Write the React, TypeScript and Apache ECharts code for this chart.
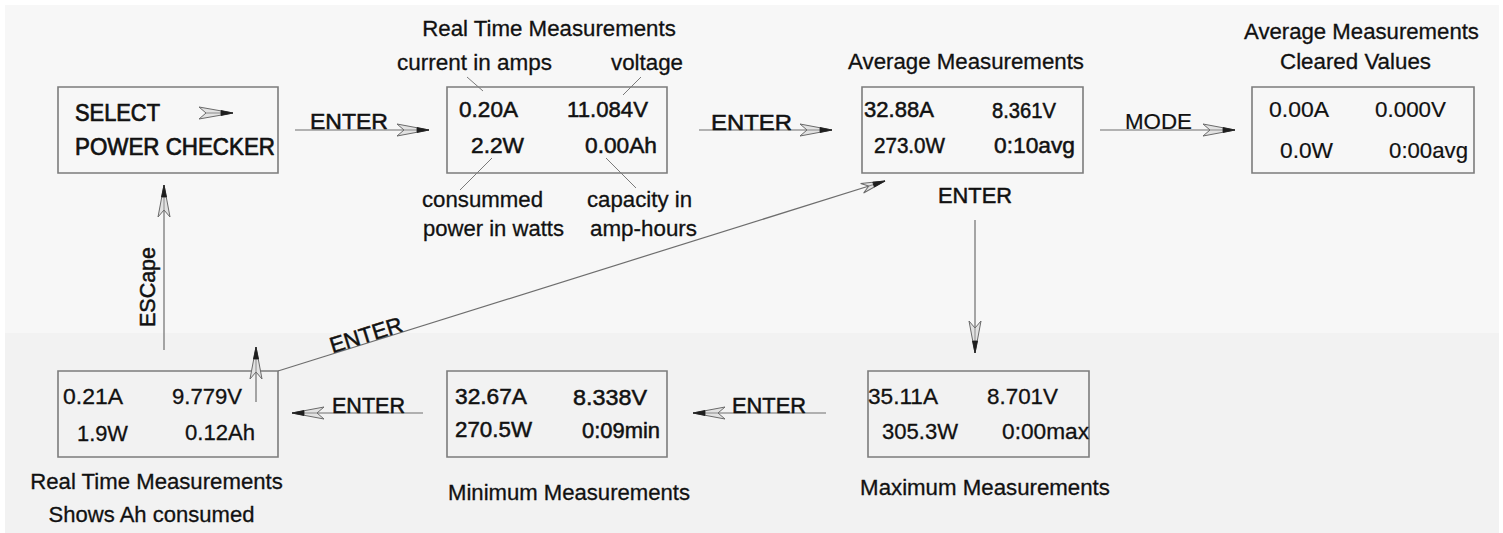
import React, { useEffect, useRef } from "react";
import * as echarts from "echarts";

// ---------- content (texts / readings) ----------
const SCREEN_TITLES = ["SELECT", "POWER CHECKER"];
const RT_READINGS = ["0.20A", "11.084V", "2.2W", "0.00Ah"];
const AVG_READINGS = ["32.88A", "8.361V", "273.0W", "0:10avg"];
const CLEARED_READINGS = ["0.00A", "0.000V", "0.0W", "0:00avg"];
const RT_AH_READINGS = ["0.21A", "9.779V", "1.9W", "0.12Ah"];
const MIN_READINGS = ["32.67A", "8.338V", "270.5W", "0:09min"];
const MAX_READINGS = ["35.11A", "8.701V", "305.3W", "0:00max"];
const CAPTIONS = [
  "Real Time Measurements",
  "current in amps",
  "voltage",
  "consummed",
  "power in watts",
  "capacity in",
  "amp-hours",
  "Average Measurements",
  "Average Measurements",
  "Cleared Values",
  "Real Time Measurements",
  "Shows Ah consumed",
  "Minimum Measurements",
  "Maximum Measurements",
];
const KEY_LABELS = ["ENTER", "ENTER", "MODE", "ENTER", "ENTER", "ENTER", "ENTER", "ESCape"];

// ---------- layout (positions only) ----------
// boxes: [x, y, w, h]
const BOX_LAYOUT = [
  [58, 87, 220, 86],
  [447, 87, 220, 86],
  [862, 87, 221, 86],
  [1252, 87, 222, 86],
  [58, 371, 220, 86],
  [447, 371, 220, 86],
  [868, 371, 221, 86],
];
// reading text spans inside boxes: [x0, x1, cy] (4 per box, in reading order)
const RT_POS = [[459, 518, 110], [567, 648, 110], [471, 524, 146], [585, 657, 146]];
const AVG_POS = [[864, 934, 110], [992, 1056, 110], [874, 945, 146], [994, 1075, 146]];
const CLR_POS = [[1269, 1329, 110], [1375, 1446, 110], [1280, 1333, 151], [1389, 1468, 151]];
const RTAH_POS = [[63, 123, 397], [172, 242, 397], [77, 128, 433], [185, 255, 433]];
const MIN_POS = [[455, 527, 397], [573, 647, 397], [455, 532, 430], [582, 660, 430]];
const MAX_POS = [[868, 938, 397], [987, 1058, 397], [882, 958, 432], [1002, 1089, 432]];
const TITLE_POS = [[75, 160, 113], [75, 275, 147]];
const CAPTION_POS = [
  [422, 676, 29],
  [397, 552, 63],
  [611, 683, 63],
  [422, 543, 200],
  [423, 564, 229],
  [587, 692, 200],
  [590, 697, 229],
  [848, 1084, 62],
  [1244, 1479, 32],
  [1280, 1431, 62],
  [30, 283, 482],
  [48, 255, 515],
  [448, 690, 493],
  [860, 1110, 488],
];
// key label positions: [cx, cy, width, rotation]
const KEY_POS = [
  [349, 122, 78, 0],
  [751.5, 122, 81, 0],
  [1158.5, 122, 67, 0],
  [368.5, 405, 73, 0],
  [769, 405, 74, 0],
  [366, 335, 75, 0.304],
  [975, 195, 74, 0],
  [147, 287, 80, Math.PI / 2],
];
// arrows: [x1, y1, x2, y2] head at (x2, y2)
const ARROWS = [
  [295, 130, 429, 130],
  [699, 130, 832, 130],
  [1100, 130, 1235, 130],
  [975, 220, 975, 353],
  [423, 413, 292, 413],
  [826, 413, 693, 413],
  [164, 350, 164, 185],
  [256, 402, 256, 347],
  [278, 371, 885, 181],
];
// leader lines: [x1, y1, x2, y2]
const LEADERS = [
  [467, 77, 483, 91],
  [641, 77, 623, 95],
  [460, 190, 492, 158],
  [606, 158, 636, 188],
];

const FONT = '"Liberation Sans", Arial, Helvetica, sans-serif';
const TEXT_COLOR = "#111111";

let measureCtx: CanvasRenderingContext2D | null = null;
function measure(t: string, size: number): number {
  if (!measureCtx) {
    const c = document.createElement("canvas");
    measureCtx = c.getContext("2d");
  }
  if (!measureCtx) return t.length * size * 0.55;
  measureCtx.font = `${size}px ${FONT}`;
  return measureCtx.measureText(t).width;
}

function fitText(text: string, cx: number, cy: number, width: number, size: number, rotation = 0, heavy = 0.35) {
  const natural = measure(text, size);
  let sx = natural > 0 ? width / natural : 1;
  sx = Math.max(0.75, Math.min(1.3, sx));
  return {
    type: "text",
    x: cx,
    y: cy,
    rotation,
    scaleX: sx,
    silent: true,
    style: {
      text,
      x: 0,
      y: 0,
      fill: TEXT_COLOR,
      fontSize: size,
      fontFamily: FONT,
      align: "center",
      verticalAlign: "middle",
      stroke: TEXT_COLOR,
      lineWidth: heavy,
    },
  };
}

function spanText(text: string, span: number[], size: number, heavy = 0.35) {
  const [x0, x1, cy] = span;
  return fitText(text, (x0 + x1) / 2, cy, x1 - x0, size, 0, heavy);
}

function arrowHead(tx: number, ty: number, angle: number, len = 32, half = 6) {
  return {
    type: "group",
    x: tx,
    y: ty,
    rotation: angle,
    silent: true,
    children: [
      {
        type: "polygon",
        shape: { points: [[0, 0], [-len, -half], [-len + 7, 0], [-len, half]] },
        style: { fill: "#e2e2e2", stroke: "#6a6a6a", lineWidth: 1 },
      },
      {
        type: "line",
        shape: { x1: -len + 7, y1: 0, x2: 0, y2: 0 },
        style: { stroke: "#8a8a8a", lineWidth: 1 },
      },
      {
        type: "polygon",
        shape: { points: [[0, 0], [-12, -2.5], [-12, 2.5]] },
        style: { fill: "#1e1e1e", stroke: "#1e1e1e", lineWidth: 0.8 },
      },
    ],
  };
}

function buildElements() {
  const els: any[] = [];
  // background
  els.push({
    type: "rect",
    silent: true,
    shape: { x: 5, y: 5, width: 1494, height: 328 },
    style: { fill: "#f7f7f7" },
  });
  els.push({
    type: "rect",
    silent: true,
    shape: { x: 5, y: 333, width: 1494, height: 200 },
    style: { fill: "#f2f2f2" },
  });
  // boxes
  BOX_LAYOUT.forEach(([x, y, w, h]) => {
    els.push({
      type: "rect",
      silent: true,
      shape: { x, y, width: w, height: h },
      style: { fill: "none", stroke: "#7c7c7c", lineWidth: 1.6 },
    });
  });
  // leader lines
  LEADERS.forEach(([x1, y1, x2, y2]) => {
    els.push({
      type: "line",
      silent: true,
      shape: { x1, y1, x2, y2 },
      style: { stroke: "#7a7a7a", lineWidth: 1 },
    });
  });
  // arrows
  ARROWS.forEach(([x1, y1, x2, y2]) => {
    els.push({
      type: "line",
      silent: true,
      shape: { x1, y1, x2, y2 },
      style: { stroke: "#6e6e6e", lineWidth: 1.2 },
    });
    const ang = Math.atan2(-(y2 - y1), x2 - x1);
    const diag = Math.abs(y2 - y1) > 1 && Math.abs(x2 - x1) > 1;
    els.push(arrowHead(x2, y2, ang, diag ? 24 : 32, diag ? 5 : 6));
  });
  // small arrow symbol inside the SELECT box
  els.push(arrowHead(233, 113, 0, 34, 6));

  // texts
  SCREEN_TITLES.forEach((t, i) => els.push(spanText(t, TITLE_POS[i], 23, 0.7)));
  const groups: [string[], number[][], number][] = [
    [RT_READINGS, RT_POS, 0.5],
    [AVG_READINGS, AVG_POS, 0.5],
    [CLEARED_READINGS, CLR_POS, 0.2],
    [RT_AH_READINGS, RTAH_POS, 0.3],
    [MIN_READINGS, MIN_POS, 0.5],
    [MAX_READINGS, MAX_POS, 0.3],
  ];
  groups.forEach(([texts, pos, h]) => texts.forEach((t, i) => els.push(spanText(t, pos[i], 22, h))));
  CAPTIONS.forEach((t, i) => els.push(spanText(t, CAPTION_POS[i], 22, 0.3)));
  KEY_LABELS.forEach((t, i) => {
    const [cx, cy, w, rot] = KEY_POS[i];
    els.push(fitText(t, cx, cy, w, 22, rot, i === 2 ? 0.2 : 0.5));
  });
  return els;
}

export default function App() {
  const ref = useRef<HTMLDivElement | null>(null);
  useEffect(() => {
    if (!ref.current) return;
    const chart = echarts.init(ref.current, undefined, { renderer: "svg" });
    chart.setOption({
      animation: false,
      backgroundColor: "#ffffff",
      graphic: { elements: buildElements() },
    });
    return () => chart.dispose();
  }, []);
  return (
    <div
      ref={ref}
      style={{ position: "absolute", left: 0, top: 0, width: 1503, height: 533 }}
    />
  );
}
